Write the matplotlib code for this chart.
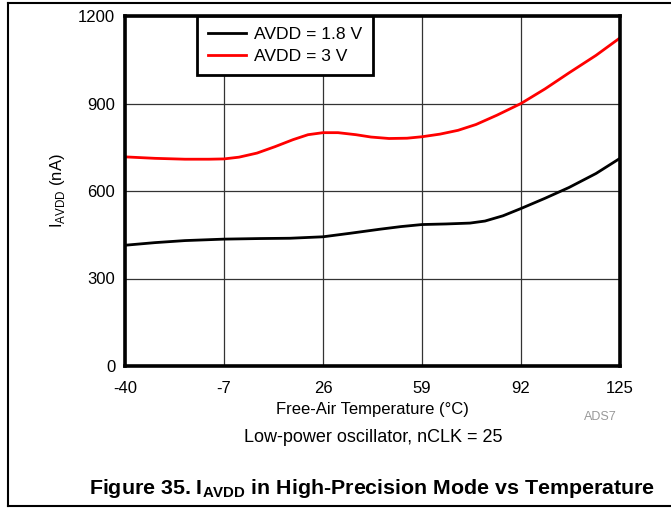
import matplotlib

matplotlib.use("Agg")

import matplotlib.pyplot as plt
from matplotlib.lines import Line2D

plt.rcParams["font.family"] = ["Liberation Sans", "DejaVu Sans"]
plt.rcParams["mathtext.fontset"] = "custom"
plt.rcParams["mathtext.rm"] = "Liberation Sans"
plt.rcParams["mathtext.bf"] = "Liberation Sans:bold"
plt.rcParams["axes.unicode_minus"] = False

# temperature (degC) and supply current (nA)
temp_18 = [-40, -30, -20, -7, 5, 15, 26, 35, 45, 52, 59, 67, 75, 80, 86, 92, 100, 108, 117, 125]
iavdd_18 = [414, 423, 430, 435, 437, 438, 443, 455, 469, 478, 485, 487, 490, 497, 515, 540, 575, 612, 660, 712]

temp_3 = [-40, -30, -20, -12, -7, -2, 4, 10, 16, 21, 26, 31, 37, 42, 48, 54, 59, 65, 71, 77, 84, 92, 100, 108, 117, 125]
iavdd_3 = [717, 712, 709, 709, 710, 716, 730, 752, 776, 793, 800, 800, 793, 785, 780, 781, 786, 795, 808, 828, 860, 900, 950, 1005, 1065, 1125]

x_ticks = [-40, -7, 26, 59, 92, 125]
y_ticks = [0, 300, 600, 900, 1200]

fig = plt.figure(figsize=(6.71, 5.08), dpi=100)
ax = fig.add_axes([125 / 671, 1 - 366 / 508, 495 / 671, 350 / 508])

ax.plot(temp_18, iavdd_18, color="black", linewidth=2.0, label="AVDD = 1.8 V")
ax.plot(temp_3, iavdd_3, color="#ff0000", linewidth=2.0, label="AVDD = 3 V")

ax.set_xlim(-40, 125)
ax.set_ylim(0, 1200)
ax.set_xticks(x_ticks)
ax.set_yticks(y_ticks)
ax.tick_params(length=0, labelsize=12)
ax.tick_params(axis="x", pad=11)
ax.tick_params(axis="y", pad=7)
ax.grid(True, color="#333333", linewidth=0.9)
ax.set_axisbelow(True)
for s in ax.spines.values():
    s.set_linewidth(2.6)
    s.set_zorder(5)

ax.set_xlabel("Free-Air Temperature (\u00b0C)", fontsize=12, labelpad=4)
ax.set_ylabel(r"I$_{\mathrm{AVDD}}$ (nA)", fontsize=12, labelpad=8)

leg = ax.legend(
    loc="upper left",
    bbox_to_anchor=(72 / 495, 1.0),
    fontsize=12.6,
    frameon=True,
    fancybox=False,
    edgecolor="black",
    framealpha=1,
    handlelength=2.2,
    handletextpad=0.45,
    borderpad=0.6,
    labelspacing=0.42,
    borderaxespad=0,
)
leg.get_frame().set_linewidth(2.0)
leg.set_zorder(6)

fig.text(600 / 671, 1 - 417 / 508, "ADS7", fontsize=9, color="#999999", ha="center", va="center")
fig.text(373 / 671, 1 - 438 / 508, "Low-power oscillator, nCLK = 25", fontsize=13, ha="center", va="center")
fig.text(
    655 / 671, 1 - 488 / 508,
    r"Figure 35. I$_{\mathbf{AVDD}}$ in High-Precision Mode vs Temperature",
    fontsize=15.4, fontweight="bold", ha="right", va="center",
)

# outer frame lines (top, left, bottom)
fig.add_artist(Line2D([8 / 671, 1], [1 - 3 / 508, 1 - 3 / 508], color="black", linewidth=1.5, transform=fig.transFigure))
fig.add_artist(Line2D([8 / 671, 8 / 671], [1 - 3 / 508, 1 - 506 / 508], color="black", linewidth=1.5, transform=fig.transFigure))
fig.add_artist(Line2D([8 / 671, 1], [1 - 506 / 508, 1 - 506 / 508], color="black", linewidth=1.5, transform=fig.transFigure))

fig.savefig("out.png", dpi=100)
